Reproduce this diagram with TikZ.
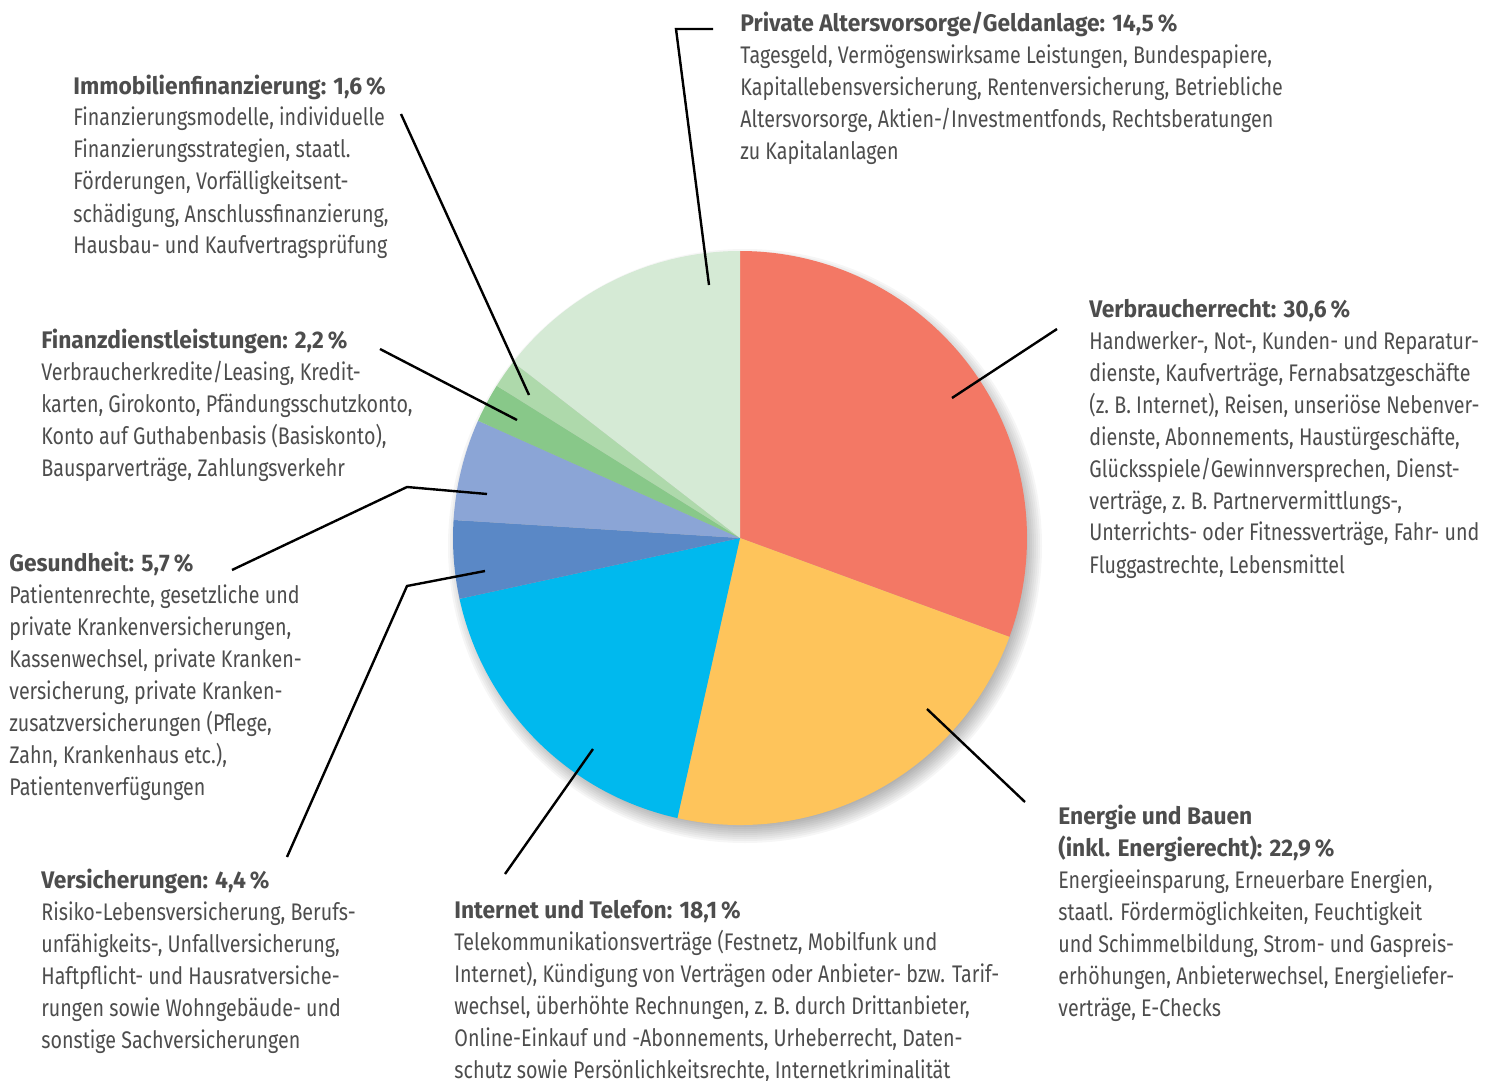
\documentclass[tikz,border=0pt]{standalone}
\usepackage{fontspec}
\setmainfont{Fira Sans}[FakeStretch=0.82, BoldFeatures={FakeStretch=0.95}]
\usepackage{tikz}
\usetikzlibrary{calc}
\definecolor{textgray}{RGB}{77,77,77}
\definecolor{verbcol}{RGB}{243,120,101}
\definecolor{enercol}{RGB}{254,196,91}
\definecolor{netcol}{RGB}{0,185,238}
\definecolor{versichcol}{RGB}{90,136,198}
\definecolor{gesundcol}{RGB}{139,165,214}
\definecolor{finanzcol}{RGB}{136,200,137}
\definecolor{immocol}{RGB}{174,217,171}
\definecolor{privcol}{RGB}{213,234,213}

\begin{document}
\begin{tikzpicture}[x=0.5pt, y=-0.5pt]
      \tikzset{blurb/.style = {anchor=base west, align=left, inner sep=0pt, text=textgray,
                               font=\fontsize{12}{16}\selectfont}}
      \tikzset{leader/.style = {-, line width=1.2pt, black}}
      \useasboundingbox (0,0) rectangle (1496,1081);
      \coordinate (c) at (740,538);

      % shadow
      \foreach \i in {0,...,9}
        \fill[black, opacity=0.035] ($(c)+(5,8)$) circle[radius=297-2*\i];

      % slices, clockwise from the top
      \foreach \a/\b/\col in {-90/20.16/verbcol, 20.16/102.6/enercol, 102.6/167.76/netcol,
                              167.76/183.6/versichcol, 183.6/204.12/gesundcol,
                              204.12/212.04/finanzcol, 212.04/217.8/immocol, 217.8/270/privcol}
        \fill[\col] (c) -- ($(c)+(\a:287)$) arc[start angle=\a, end angle=\b, radius=287] -- cycle;

      % base = baseline of the last line
      \node[blurb] (priv) at (740,160) {\textbf{Private Altersvorsorge/Geldanlage: 14,5\,\%}\\
        Tagesgeld, Vermögenswirksame Leistungen, Bundespapiere,\\
        Kapitallebensversicherung, Rentenversicherung, Betriebliche\\
        Altersvorsorge, Aktien-/Investmentfonds, Rechtsberatungen\\
        zu Kapitalanlagen};
      \node[blurb] (immo) at (73,254) {\textbf{Immobilienfinanzierung: 1,6\,\%}\\
        Finanzierungsmodelle, individuelle\\
        Finanzierungsstrategien, staatl.\\
        Förderungen, Vorfälligkeitsent-\\
        schädigung, Anschlussfinanzierung,\\
        Hausbau- und Kaufvertragsprüfung};
      \node[blurb] (verb) at (1089,573) {\textbf{Verbraucherrecht: 30,6\,\%}\\
        Handwerker-, Not-, Kunden- und Reparatur-\\
        dienste, Kaufverträge, Fernabsatzgeschäfte\\
        (z.~B. Internet), Reisen, unseriöse Nebenver-\\
        dienste, Abonnements, Haustürgeschäfte,\\
        Glücksspiele/Gewinnversprechen, Dienst-\\
        verträge, z.~B. Partnervermittlungs-,\\
        Unterrichts- oder Fitnessverträge, Fahr- und\\
        Fluggastrechte, Lebensmittel};
      \node[blurb] (finanz) at (41,476) {\textbf{Finanzdienstleistungen: 2,2\,\%}\\
        Verbraucherkredite/Leasing, Kredit-\\
        karten, Girokonto, Pfändungsschutzkonto,\\
        Konto auf Guthabenbasis (Basiskonto),\\
        Bausparverträge, Zahlungsverkehr};
      \node[blurb] (gesund) at (9,795) {\textbf{Gesundheit: 5,7\,\%}\\
        Patientenrechte, gesetzliche und\\
        private Krankenversicherungen,\\
        Kassenwechsel, private Kranken-\\
        versicherung, private Kranken-\\
        zusatzversicherungen (Pflege,\\
        Zahn, Krankenhaus etc.),\\
        Patientenverfügungen};
      \node[blurb] (versich) at (41,1048) {\textbf{Versicherungen: 4,4\,\%}\\
        Risiko-Lebensversicherung, Berufs-\\
        unfähigkeits-, Unfallversicherung,\\
        Haftpflicht- und Hausratversiche-\\
        rungen sowie Wohngebäude- und\\
        sonstige Sachversicherungen};
      \node[blurb] (net) at (454,1078) {\textbf{Internet und Telefon: 18,1\,\%}\\
        Telekommunikationsverträge (Festnetz, Mobilfunk und\\
        Internet), Kündigung von Verträgen oder Anbieter- bzw. Tarif-\\
        wechsel, überhöhte Rechnungen, z.~B. durch Drittanbieter,\\
        Online-Einkauf und -Abonnements, Urheberrecht, Daten-\\
        schutz sowie Persönlichkeitsrechte, Internetkriminalität};
      \node[blurb] (ener) at (1058,1016) {\textbf{Energie und Bauen}\\
        \textbf{(inkl. Energierecht): 22,9\,\%}\\
        Energieeinsparung, Erneuerbare Energien,\\
        staatl. Fördermöglichkeiten, Feuchtigkeit\\
        und Schimmelbildung, Strom- und Gaspreis-\\
        erhöhungen, Anbieterwechsel, Energieliefer-\\
        verträge, E-Checks};

      % leader lines
      \coordinate (privA) at (713,29);
      \coordinate (privB) at (676,29);
      \coordinate (privC) at (709,285);
      \coordinate (immoA) at (401,114);
      \coordinate (immoB) at (529,395);
      \coordinate (verbA) at (1057,329);
      \coordinate (verbB) at (952,398);
      \coordinate (finanzA) at (380,349);
      \coordinate (finanzB) at (517,420);
      \coordinate (gesundA) at (232,570);
      \coordinate (gesundB) at (407,487);
      \coordinate (gesundC) at (487,494);
      \coordinate (versichA) at (287,857);
      \coordinate (versichB) at (407,586);
      \coordinate (versichC) at (485,571);
      \coordinate (netA) at (505,874);
      \coordinate (netB) at (593,749);
      \coordinate (enerA) at (1025,802);
      \coordinate (enerB) at (927,709);

      \draw[leader] (privA) -- (privB) -- (privC);
      \draw[leader] (immoA) -- (immoB);
      \draw[leader] (verbA) -- (verbB);
      \draw[leader] (finanzA) -- (finanzB);
      \draw[leader] (gesundA) -- (gesundB) -- (gesundC);
      \draw[leader] (versichA) -- (versichB) -- (versichC);
      \draw[leader] (netA) -- (netB);
      \draw[leader] (enerA) -- (enerB);
    \end{tikzpicture}
\end{document}
